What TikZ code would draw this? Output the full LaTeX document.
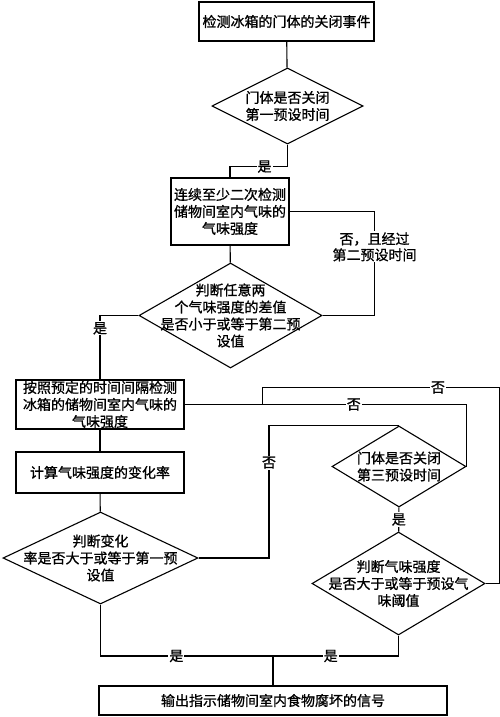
\documentclass[tikz,border=0pt]{standalone}
\usepackage{fontspec}
\newfontfamily\cjk[FakeBold=1]{Noto Sans CJK SC}
\usetikzlibrary{shapes.geometric,calc}

\begin{document}
\begin{tikzpicture}[x=1pt,y=-1pt,line width=1.1pt,
  box/.style={draw,rectangle,inner sep=0pt,align=center,font=\cjk\fontsize{14}{17}\selectfont},
  dia/.style={draw,diamond,inner sep=0pt},
  txt/.style={align=center,inner sep=0pt,font=\cjk\fontsize{14}{17}\selectfont},
  lbl/.style={fill=white,inner sep=1pt,align=center,font=\cjk\fontsize{14}{16}\selectfont}]

% page size
\useasboundingbox (0,0) rectangle (500,717);

% boxes
\node[box,minimum width=175pt,minimum height=39pt] (start) at (286.5,21.5) {检测冰箱的门体的关闭事件};
\node[box,minimum width=118pt,minimum height=67pt] (twice) at (230,211.5) {连续至少二次检测\\储物间室内气味的\\气味强度};
\node[box,minimum width=168pt,minimum height=49pt] (interval) at (100,404.5) {按照预定的时间间隔检测\\冰箱的储物间室内气味的\\气味强度};
\node[box,minimum width=168pt,minimum height=41pt] (rate) at (100,472.5) {计算气味强度的变化率};
\node[box,minimum width=348pt,minimum height=29pt] (output) at (273,700.5) {输出指示储物间室内食物腐坏的信号};

% diamonds, text put on top
\node[dia,minimum width=151pt,minimum height=76pt] (door1) at (287.5,106) {};
\node[txt] (door1t) at (door1) {门体是否关闭\\第一预设时间};
\node[dia,minimum width=183pt,minimum height=105pt] (diff) at (230.5,315.5) {};
\node[txt] (difft) at (diff) {判断任意两\\个气味强度的差值\\是否小于或等于第二预\\设值};
\node[dia,minimum width=134pt,minimum height=81pt] (door3) at (399,466.5) {};
\node[txt] (door3t) at (door3) {门体是否关闭\\第三预设时间};
\node[dia,minimum width=195pt,minimum height=92pt] (ratecheck) at (100.5,558) {};
\node[txt] (ratecheckt) at (ratecheck) {判断变化\\率是否大于或等于第一预\\设值};
\node[dia,minimum width=173pt,minimum height=103pt] (thresh) at (398.5,583.5) {};
\node[txt] (thresht) at (thresh) {判断气味强度\\是否大于或等于预设气\\味阈值};

% joining point above the output box
\coordinate (join) at (273,656);

% connectors
\draw (start) -- (door1);
\draw (door1.south) -- ++(0,22) -| (twice.north) node[lbl,pos=0.2] {是};
\draw (twice.east) -- ++(85,0) |- (diff.east) node[lbl,pos=0.17] {否，且经过\\第二预设时间};
\draw (twice) -- (diff);
\draw (diff.west) -| (interval.north) node[lbl,pos=0.6] {是};
\draw (interval) -- (rate);
\draw (rate) -- (ratecheck);
\draw (interval.east) -| (door3.east) node[lbl,pos=0.3] {否};
\draw ($(interval.east)+(78,0)$) -- ++(0,-17) -- ++(237,0) node[lbl,pos=0.74] {否} |- (thresh.east);
\draw (door3.north) -- ++(-130,0) |- (ratecheck.east) node[lbl,pos=0.14] {否};
\draw (door3) -- (thresh) node[lbl,midway] {是};
\draw (ratecheck.south) |- (join) node[lbl,pos=0.72] {是};
\draw (thresh.south) |- (join) node[lbl,pos=0.77] {是};
\draw (join) -- (output);

\end{tikzpicture}
\end{document}
